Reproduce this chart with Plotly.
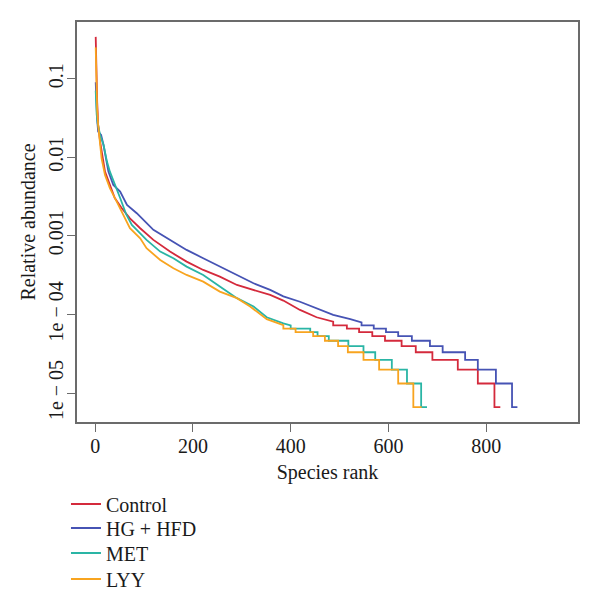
import plotly.graph_objects as go

# ---------------- data ----------------
read_depth = 151500  # reads per sample: one read is the lowest abundance step

series_names = ["Control", "HG + HFD", "MET", "LYY"]
series_colors = ["#d42a3c", "#4653b4", "#2ab5a5", "#f8a41f"]

# upper, smooth part of each rank-abundance curve
ctrl_rank = [1, 2, 3, 4, 5, 6, 10, 15, 20, 30, 40, 54, 71, 92, 119, 153, 187, 221,
             255, 290, 324, 358, 385, 419, 453, 487]
ctrl_abund = [0.34, 0.12, 0.07, 0.05, 0.037, 0.0258, 0.0158, 0.0097, 0.00656, 0.00445,
              0.00303, 0.00226, 0.00167, 0.00125, 0.000888, 0.00063, 0.00047, 0.000368,
              0.000303, 0.000237, 0.000205, 0.000177, 0.00015, 0.000114, 9.2e-5, 8.1e-5]

hg_rank = [1, 2, 3, 4, 6, 12, 17, 22, 27, 37, 51, 65, 85, 119, 153, 187, 221, 255,
           290, 324, 358, 385, 419, 453, 487, 522, 545]
hg_abund = [0.09, 0.05, 0.036, 0.03, 0.0212, 0.0192, 0.0143, 0.0097, 0.00656, 0.00445,
            0.00365, 0.00247, 0.00194, 0.00119, 0.000887, 0.000662, 0.000519, 0.000406,
            0.000318, 0.000249, 0.000205, 0.00017, 0.000145, 0.00012, 9.86e-5, 8.7e-5, 7.9e-5]

met_rank = [1, 2, 3, 5, 10, 17, 24, 30, 41, 51, 63, 75, 85, 105, 133, 160, 187, 221,
            255, 290, 324, 351, 385, 400]
met_abund = [0.07, 0.045, 0.035, 0.027, 0.0192, 0.0143, 0.0088, 0.00656, 0.00445, 0.00303,
             0.0019, 0.00138, 0.00119, 0.000887, 0.00063, 0.000519, 0.000406, 0.000318,
             0.000226, 0.000161, 0.000126, 9.2e-5, 7.7e-5, 7.26e-5]

lyy_rank = [1, 2, 3, 4, 6, 13, 20, 30, 44, 54, 71, 92, 105, 133, 160, 187, 221, 255,
            290, 317, 351, 385]
lyy_abund = [0.25, 0.09, 0.05, 0.04, 0.0258, 0.0097, 0.00596, 0.00404, 0.00272, 0.00203,
             0.00125, 0.000931, 0.000695, 0.000493, 0.000387, 0.000318, 0.000261, 0.000195,
             0.000161, 0.000126, 8.7e-5, 7.3e-5]

# stepped tail: read counts and the last rank holding that count
ctrl_tail_count = [11, 10, 9, 8, 7, 6, 5, 4, 3, 2, 1]
ctrl_tail_end = [515, 540, 567, 593, 627, 656, 690, 742, 783, 817, 829]

hg_tail_count = [11, 10, 9, 8, 7, 6, 5, 4, 3, 2, 1]
hg_tail_end = [570, 595, 620, 648, 685, 711, 757, 783, 820, 853, 864]

met_tail_count = [10, 9, 8, 7, 6, 5, 4, 3, 2, 1]
met_tail_end = [440, 455, 478, 518, 549, 573, 607, 638, 667, 679]

lyy_tail_count = [10, 9, 8, 7, 6, 5, 4, 3, 2, 1]
lyy_tail_end = [410, 446, 470, 497, 517, 549, 581, 620, 651, 668]

x_ticks = [0, 200, 400, 600, 800]
y_tick_vals = [0.1, 0.01, 0.001, 1e-4, 1e-5]
y_tick_text = ["0.1", "0.01", "0.001", "1e \u2212 04", "1e \u2212 05"]

# ---------------- figure ----------------
def build(rank, abund, counts, ends):
    xs = list(rank)
    ys = list(abund)
    start = rank[-1]
    for k, e in zip(counts, ends):
        xs += [start, e]
        ys += [k / read_depth, k / read_depth]
        start = e
    return xs, ys

all_series = [
    (ctrl_rank, ctrl_abund, ctrl_tail_count, ctrl_tail_end),
    (hg_rank, hg_abund, hg_tail_count, hg_tail_end),
    (met_rank, met_abund, met_tail_count, met_tail_end),
    (lyy_rank, lyy_abund, lyy_tail_count, lyy_tail_end),
]

FONT = "Liberation Serif"
TXT = "#1a1a1a"
legend_ids = ["legend", "legend2", "legend3", "legend4"]

fig = go.Figure()
for i, (r, a, c, e) in enumerate(all_series):
    xs, ys = build(r, a, c, e)
    fig.add_trace(go.Scatter(x=xs, y=ys, mode="lines", name=series_names[i],
                             legend=legend_ids[i],
                             line=dict(color=series_colors[i], width=1.8)))

axis_common = dict(showline=True, linecolor="#6b6b6b", linewidth=1.5, mirror=True,
                   ticks="outside", ticklen=8, tickwidth=1.3, tickcolor="#6b6b6b",
                   showgrid=False, zeroline=False, automargin=False,
                   tickfont=dict(family=FONT, size=20, color=TXT))

fig.update_xaxes(range=[-37.3, 988], tickvals=x_ticks, ticklabelstandoff=-3,
                 title=dict(text="Species rank", font=dict(family=FONT, size=20, color=TXT),
                            standoff=9),
                 **axis_common)
fig.update_yaxes(type="log", range=[-5.369, -0.279], tickvals=y_tick_vals, ticktext=y_tick_text,
                 tickangle=-90, ticklabelstandoff=-4,
                 title=dict(text="Relative abundance", font=dict(family=FONT, size=20, color=TXT),
                            standoff=4),
                 **axis_common)

legend_style = dict(x=-0.022, xanchor="left", yanchor="middle", orientation="v",
                    font=dict(family=FONT, size=20, color=TXT),
                    bgcolor="rgba(0,0,0,0)")
legend_y = [-0.205, -0.265, -0.3275, -0.3925]

fig.update_layout(
    width=600, height=607,
    margin=dict(l=77, r=22, t=22, b=185, autoexpand=False),
    paper_bgcolor="white", plot_bgcolor="white",
    showlegend=True,
    legend=dict(y=legend_y[0], **legend_style),
    legend2=dict(y=legend_y[1], **legend_style),
    legend3=dict(y=legend_y[2], **legend_style),
    legend4=dict(y=legend_y[3], **legend_style),
)

fig.write_html("out.html")
